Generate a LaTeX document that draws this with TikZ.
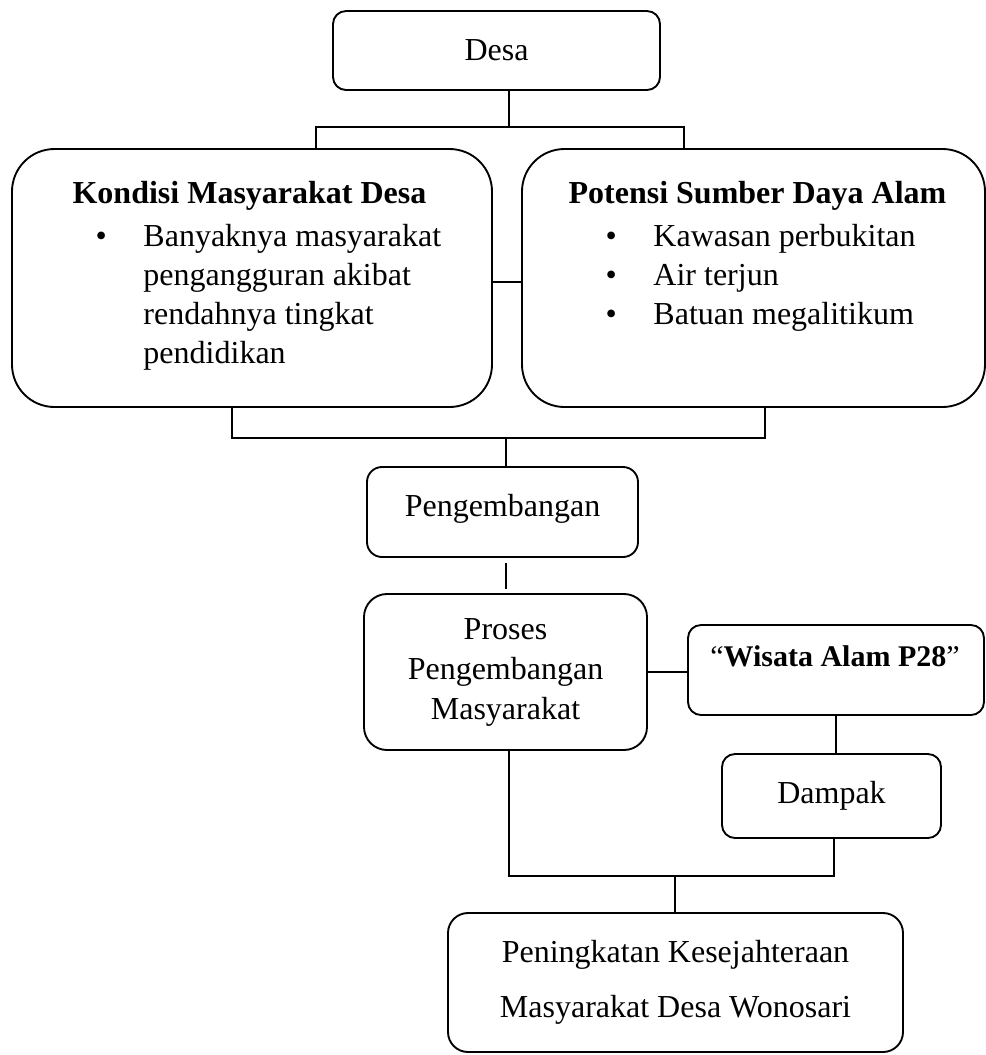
\documentclass[tikz,border=0pt]{standalone}
\usepackage{fontspec}
\setmainfont{Liberation Serif}
\usetikzlibrary{positioning}

\tikzset{
  box/.style={draw, line width=0.75pt, rounded corners=#1, align=center, inner sep=0pt},
  box/.default=5.2pt,
  wire/.style={line width=0.75pt},
  listtext/.style={inner sep=0pt, anchor=base west, font=\fontsize{12.8}{15.6}\selectfont},
}

\begin{document}
\begin{tikzpicture}[x=0.4pt, y=-0.4pt, font=\fontsize{12.8}{16}\selectfont]
  \useasboundingbox (0,0) rectangle (986,1055);

  %% the boxes, top to bottom
  \node[box, minimum width=130.8pt, minimum height=31.6pt] (desa) at (496.5,50.5) {Desa};
  \node[box=17pt, minimum width=192pt, minimum height=103.2pt] (kond) at (252,278) {};
  \node[box=17pt, minimum width=185.2pt, minimum height=103.2pt] (pot) at (753.5,278) {};
  \node[box=6pt, minimum width=108.4pt, minimum height=36pt] (peng) at (502.5,512) {Pengembangan\vphantom{Ag}\rule[-5pt]{0pt}{1pt}};
  \node[box=9.2pt, minimum width=113.2pt, minimum height=62.4pt] (proses) at (505.5,672) {Proses\\Pengembangan\\Masyarakat};
  \node[box, minimum width=118.4pt, minimum height=36pt] (wisata) at (836,670) {};
  \node[box, minimum width=87.6pt, minimum height=33.6pt] (dampak) at (831.5,796) {Dampak};
  \node[box=8pt, minimum width=182pt, minimum height=55.6pt, font=\fontsize{12.8}{22}\selectfont] (final) at (675.5,982.5)
    {Peningkatan Kesejahteraan\\Masyarakat Desa Wonosari};

  %% texts that sit at the top of their box
  \node[inner sep=0pt, anchor=base] (kondtitle) at (249.5,203) {\textbf{Kondisi Masyarakat Desa}};
  \node[listtext] (kondlist) at (95,246) {\begin{tabular}[t]{@{}p{19.2pt}@{}l@{}}
      • & Banyaknya masyarakat\\
        & pengangguran akibat\\
        & rendahnya tingkat\\
        & pendidikan
    \end{tabular}};
  \node[inner sep=0pt, anchor=base] (pottitle) at (757.5,203) {\textbf{Potensi Sumber Daya Alam}};
  \node[listtext] (potlist) at (605,246) {\begin{tabular}[t]{@{}p{19.2pt}@{}l@{}}
      • & Kawasan perbukitan\\
      • & Air terjun\\
      • & Batuan megalitikum
    \end{tabular}};
  \node[inner sep=0pt, anchor=base, font=\fontsize{12}{16}\selectfont] (wisatatext) at (835,666) {“\textbf{Wisata Alam P28}”};

  %% junction points of the elbow lines
  \coordinate (jdesa) at (509,127);
  \coordinate (jkond) at (316,127);
  \coordinate (jpot) at (684,127);
  \coordinate (side) at (0,282);
  \coordinate (lkond) at (232,438);
  \coordinate (lpot) at (765,438);
  \coordinate (lpeng) at (506,438);
  \coordinate (lproses) at (509,876);
  \coordinate (ldampak) at (834,876);
  \coordinate (lfinal) at (675,876);

  %% connectors
  \draw[wire] (jdesa |- desa.south) -- (jdesa);
  \draw[wire] (jkond |- kond.north) -- (jkond) -- (jpot) -- (jpot |- pot.north);
  \draw[wire] (kond.east |- side) -- (pot.west |- side);
  \draw[wire] (lkond |- kond.south) -- (lkond) -- (lpot) -- (lpot |- pot.south);
  \draw[wire] (lpeng) -- (lpeng |- peng.north);
  \draw[wire, shorten <=2pt, shorten >=1.6pt] (lpeng |- peng.south) -- (lpeng |- proses.north);
  \draw[wire] (proses.east) -- (proses.east -| wisata.west);
  \draw[wire] (wisata.south) -- (wisata.south |- dampak.north);
  \draw[wire] (lproses |- proses.south) -- (lproses) -- (ldampak) -- (ldampak |- dampak.south);
  \draw[wire] (lfinal) -- (lfinal |- final.north);
\end{tikzpicture}
\end{document}
